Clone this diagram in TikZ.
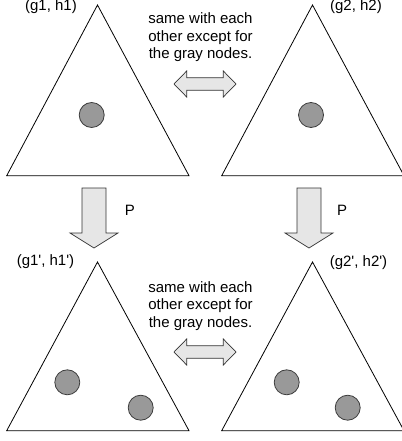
\documentclass[tikz,border=0pt]{standalone}
\usepackage{fontspec}
\newfontfamily\lsans{Liberation Sans}
\definecolor{dotfill}{RGB}{153,153,153}
\definecolor{dotline}{RGB}{60,60,60}
\definecolor{arrowfill}{RGB}{230,230,230}
\tikzset{
  tri/.style={draw=black, line width=0.8pt, line join=miter},
  dot/.style={circle, draw=dotline, fill=dotfill, line width=0.8pt, minimum size=25pt, inner sep=0pt},
  blockarrow/.style={draw=black!80, fill=arrowfill, line width=0.7pt},
  lbl/.style={font=\lsans\fontsize{15}{17.5}\selectfont, inner sep=0pt, align=center},
}
\begin{document}
\begin{tikzpicture}[x=1pt,y=-1pt]
\useasboundingbox (0,0) rectangle (401,441);
% top triangles
\draw[tri] (97.5,5) -- (6.7,175.7) -- (189,175.7) -- cycle;
\draw[tri] (312.5,5) -- (221.7,175.7) -- (404,175.7) -- cycle;
% bottom triangles
\draw[tri] (97.5,262) -- (6.7,430.7) -- (189,430.7) -- cycle;
\draw[tri] (312.5,262) -- (221.7,430.7) -- (404,430.7) -- cycle;
% dots
\node[dot] (d1) at (91.7,115) {};
\node[dot] (d2) at (311,115) {};
\node[dot] (d3) at (67.3,382.3) {};
\node[dot] (d4) at (140.7,407.7) {};
\node[dot] (d5) at (286.7,382.3) {};
\node[dot] (d6) at (347.7,407.7) {};
% labels
\node[lbl] (l1) at (51,6.5) {(g1, h1)};
\node[lbl] (l2) at (356,6.5) {(g2, h2)};
\node[lbl] (l3) at (45.5,262) {(g1', h1')};
\node[lbl] (l4) at (358.5,262.5) {(g2', h2')};
\node[lbl] (s1) at (200.5,37.5) {same with each\\other except for\\the gray nodes.};
\node[lbl] (s2) at (200.5,306) {same with each\\other except for\\the gray nodes.};
\node[lbl] (p1) at (130,210) {P};
\node[lbl] (p2) at (342,210) {P};
% down block arrows
\foreach \cx in {94,309}{
  \draw[blockarrow] (\cx-12,188) -- (\cx+12,188) -- (\cx+12,233) -- (\cx+24,233)
    -- (\cx,248) -- (\cx-24,233) -- (\cx-12,233) -- cycle;
}
% double block arrows
\foreach \cy in {84,352}{
  \draw[blockarrow] (174,\cy) -- (186.7,\cy-13) -- (186.7,\cy-6.3) -- (223.3,\cy-6.3)
    -- (223.3,\cy-13) -- (236,\cy) -- (223.3,\cy+13) -- (223.3,\cy+6.3)
    -- (186.7,\cy+6.3) -- (186.7,\cy+13) -- cycle;
}
\end{tikzpicture}
\end{document}
